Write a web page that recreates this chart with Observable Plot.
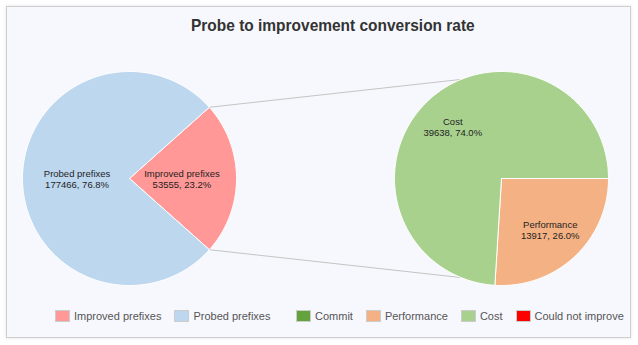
<!DOCTYPE html>
<html>
<head>
<meta charset="utf-8">
<script src="https://cdn.jsdelivr.net/npm/d3@7"></script>
<script src="https://cdn.jsdelivr.net/npm/@observablehq/plot@0.6"></script>
<style>
  html, body { margin: 0; padding: 0; background: #ffffff; width: 638px; height: 345px; overflow: hidden; }
  #panel { position: absolute; left: 6px; top: 6px; width: 623px; height: 330px; border: 1px solid #cfcfcf;
           background: #f7f8fd; box-shadow: 0 0 3px rgba(0,0,0,0.12); }
  #chart { position: absolute; left: 0; top: 0; }
  #title { position: absolute; left: 0; top: 16px; width: 666px; text-align: center; line-height: 20px;
           font: bold 17px "Liberation Sans", Arial, sans-serif; color: #333333; }
  #title span { display: inline-block; transform: scaleX(0.91); transform-origin: center; }
  .legend { position: absolute; top: 310px; height: 12px; display: flex; align-items: center;
            font: 11px "Liberation Sans", Arial, sans-serif; color: #555555; }
  .item { display: flex; align-items: center; margin-right: 13px; white-space: nowrap; }
  .sw { width: 13px; height: 10px; border: 1px solid #cccccc; box-sizing: content-box; }
  .lbl { margin-left: 4px; line-height: 12px; }
</style>
</head>
<body>
<div id="panel"></div>
<div id="chart"></div>
<div id="title"><span>Probe to improvement conversion rate</span></div>
<div class="legend" id="legend1" style="left:55px"></div>
<div class="legend" id="legend2" style="left:296px"></div>
<script>
// ---- data ----
const outerLabels = ["Improved prefixes", "Probed prefixes"];
const outerValues = [53555, 177466];
const innerLabels = ["Performance", "Cost"];
const innerValues = [13917, 39638];
const legend1Labels = ["Improved prefixes", "Probed prefixes"];
const legend2Labels = ["Commit", "Performance", "Cost", "Could not improve"];

// ---- styles ----
const colorDomain = ["Improved prefixes", "Probed prefixes", "Commit", "Performance", "Cost", "Could not improve"];
const colorRange  = ["#ff9896", "#bdd7ee", "#64a23c", "#f4b183", "#a9d18e", "#ff0000"];

// ---- layout ----
const W = 638, H = 345, R = 107, CXL = 129, CXR = 501, CY = 178;
const ux = (CXR - CXL) / R;               // right pie centre, in radius units
const CONNECT = 112.2 * Math.PI / 180;   // where connectors meet the right pie
const LABEL_L = 0.49, LABEL_R = 0.665;

function slice(cx, a0, a1, key) {
  const pts = [{x: cx, y: 0, key}];
  const n = Math.max(2, Math.ceil(Math.abs(a1 - a0) / (Math.PI / 180)));
  for (let i = 0; i <= n; i++) {
    const a = a0 + (a1 - a0) * i / n;
    pts.push({x: cx + Math.cos(a), y: Math.sin(a), key});
  }
  pts.push({x: cx, y: 0, key});
  return pts;
}

const outerTotal = d3.sum(outerValues);
const innerTotal = d3.sum(innerValues);
const pImp = outerValues[0] / outerTotal;
const theta = pImp * Math.PI;
const pPerf = innerValues[0] / innerTotal;
const aPerf = -pPerf * 2 * Math.PI;

const slices = [
  ...slice(0, -theta, theta, outerLabels[0]),
  ...slice(0, theta, 2 * Math.PI - theta, outerLabels[1]),
  ...slice(ux, 0, aPerf, innerLabels[0]),
  ...slice(ux, aPerf, -2 * Math.PI, innerLabels[1])
];

const fmt = (v, t) => `${v}, ${(v / t * 100).toFixed(1)}%`;
const labels = [
  {a: 0, r: LABEL_L, cx: 0, name: outerLabels[0], v: outerValues[0], t: outerTotal},
  {a: Math.PI, r: LABEL_L, cx: 0, name: outerLabels[1], v: outerValues[1], t: outerTotal},
  {a: aPerf / 2, r: LABEL_R, cx: ux, name: innerLabels[0], v: innerValues[0], t: innerTotal},
  {a: (aPerf - 2 * Math.PI) / 2, r: LABEL_R, cx: ux, name: innerLabels[1], v: innerValues[1], t: innerTotal}
].map(d => ({x: d.cx + d.r * Math.cos(d.a), y: d.r * Math.sin(d.a), text: `${d.name}\n${fmt(d.v, d.t)}`}));

const connectors = [1, -1].map(s => ({
  x1: Math.cos(theta), y1: s * Math.sin(theta),
  x2: ux + Math.cos(CONNECT), y2: s * Math.sin(CONNECT)
}));

const chart = Plot.plot({
  width: W, height: H,
  marginTop: 0, marginRight: 0, marginBottom: 0, marginLeft: 0,
  x: {domain: [-CXL / R, (W - CXL) / R], axis: null},
  y: {domain: [-(H - CY) / R, CY / R], axis: null},
  color: {type: "ordinal", domain: colorDomain, range: colorRange},
  style: {background: "transparent", overflow: "visible"},
  marks: [
    Plot.link(connectors, {x1: "x1", y1: "y1", x2: "x2", y2: "y2", stroke: "#c4c4c4", strokeWidth: 1}),
    Plot.line(slices, {x: "x", y: "y", z: "key", fill: "key", stroke: "#ffffff", strokeWidth: 1, strokeLinejoin: "miter", curve: "linear"}),
    Plot.text(labels, {x: "x", y: "y", text: "text", lineAnchor: "middle", lineHeight: 1.16,
      fontSize: 9.5, fontFamily: "Liberation Sans, Arial, sans-serif", fill: "#1e1e1e"})
  ]
});
document.getElementById("chart").appendChild(chart);

function buildLegend(id, names) {
  const el = document.getElementById(id);
  names.forEach(n => {
    const item = document.createElement("div");
    item.className = "item";
    const sw = document.createElement("span");
    sw.className = "sw";
    sw.style.background = colorRange[colorDomain.indexOf(n)];
    const lb = document.createElement("span");
    lb.className = "lbl";
    lb.textContent = n;
    item.appendChild(sw); item.appendChild(lb);
    el.appendChild(item);
  });
}
buildLegend("legend1", legend1Labels);
buildLegend("legend2", legend2Labels);
</script>
</body>
</html>
